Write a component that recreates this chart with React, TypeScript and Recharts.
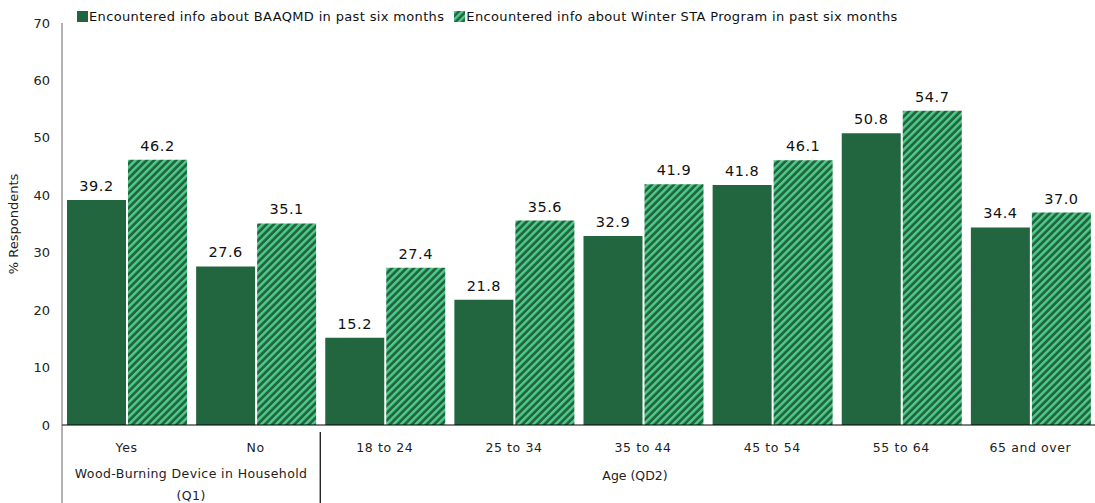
import { BarChart, Bar, XAxis, YAxis, LabelList } from "recharts";

const categories = ["Yes", "No", "18 to 24", "25 to 34", "35 to 44", "45 to 54", "55 to 64", "65 and over"];
const groups = ["Wood-Burning Device in Household (Q1)", "Wood-Burning Device in Household (Q1)", "Age (QD2)", "Age (QD2)", "Age (QD2)", "Age (QD2)", "Age (QD2)", "Age (QD2)"];
const baaqmd = [39.2, 27.6, 15.2, 21.8, 32.9, 41.8, 50.8, 34.4];
const winterSta = [46.2, 35.1, 27.4, 35.6, 41.9, 46.1, 54.7, 37.0];
const yTicks = [0, 10, 20, 30, 40, 50, 60, 70];

const DARK = "#22663f";
const LIGHT = "#4fcb8c";
const W = 1095;
const H = 503;
const LEFT = 62;
const BAND = (W - LEFT) / categories.length;

const data = categories.map((c, i) => ({
  name: c,
  group: groups[i],
  baaqmd: baaqmd[i],
  winter: winterSta[i],
}));

const font = "'DejaVu Sans', Verdana, sans-serif";

function CatTick(props: any) {
  const { x, y, payload, index } = props;
  const first = index === 0 || groups[index] !== groups[index - 1];
  return (
    <g>
      <text x={x} y={y + 19} textAnchor="middle" fontSize={12.5} fill="#222" fontFamily={font} letterSpacing={0.6}>
        {payload.value}
      </text>
      {first && index > 0 && (
        <line x1={x - BAND / 2} x2={x - BAND / 2} y1={y - 1} y2={H} stroke="#000" strokeWidth={1.2} />
      )}
      {index === 0 && (
        <text x={x + BAND / 2} textAnchor="middle" fontSize={12.5} fill="#222" fontFamily={font} letterSpacing={0.4}>
          <tspan x={x + BAND / 2} y={y + 45}>Wood-Burning Device in Household</tspan>
          <tspan x={x + BAND / 2} y={y + 67}>(Q1)</tspan>
        </text>
      )}
      {index === 2 && (
        <text x={635} y={y + 47} textAnchor="middle" fontSize={12.5} fill="#222" fontFamily={font}>
          {groups[index]}
        </text>
      )}
    </g>
  );
}

function Legend() {
  const item = (label: string, fill: string, mr: number) => (
    <div style={{ display: "flex", alignItems: "center", marginRight: mr }}>
      <svg width={11} height={11} style={{ marginRight: 1 }}>
        <rect width={11} height={11} fill={fill} />
      </svg>
      <span style={{ fontSize: 13, fontFamily: font, color: "#111", letterSpacing: 0.35 }}>{label}</span>
    </div>
  );
  return (
    <div style={{ position: "absolute", left: 77, top: 9, display: "flex" }}>
      {item("Encountered info about BAAQMD in past six months", DARK, 10)}
      {item("Encountered info about Winter STA Program in past six months", "url(#legendStripe)", 0)}
    </div>
  );
}

export default function App() {
  return (
    <div style={{ position: "absolute", left: 0, top: 0, width: W, height: H, background: "#fff" }}>
      <svg width={0} height={0} style={{ position: "absolute" }}>
        <defs>
          <pattern id="legendStripe" patternUnits="userSpaceOnUse" width={5} height={5} patternTransform="rotate(45)">
            <rect width={5} height={5} fill={DARK} />
            <rect width={2.4} height={5} fill={LIGHT} />
          </pattern>
        </defs>
      </svg>
      <Legend />
      <BarChart
        width={W}
        height={H}
        data={data}
        margin={{ top: 23, right: 0, bottom: 0, left: 0 }}
        barGap={2}
        barSize={59}
      >
        <defs>
          <pattern id="stripe" patternUnits="userSpaceOnUse" width={5.2} height={5.2} patternTransform="rotate(45)">
            <rect width={5.2} height={5.2} fill={DARK} />
            <rect width={2.4} height={5.2} fill={LIGHT} />
          </pattern>
        </defs>
        <XAxis
          dataKey="name"
          height={78}
          interval={0}
          tickLine={false}
          axisLine={{ stroke: "#000", strokeWidth: 1.2 }}
          tick={<CatTick />}
        />
        <YAxis
          width={62}
          domain={[0, 70]}
          ticks={yTicks}
          interval={0}
          tickLine={false}
          axisLine={{ stroke: "#666" }}
          tick={{ fontSize: 13, fill: "#222", fontFamily: font }}
          tickMargin={6}
          label={{
            value: "% Respondents",
            angle: -90,
            position: "insideLeft",
            dx: 8,
            style: { fontSize: 13, fill: "#222", fontFamily: font, textAnchor: "middle" },
          }}
        />
        <Bar dataKey="baaqmd" fill={DARK} isAnimationActive={false}>
          <LabelList
            dataKey="baaqmd"
            position="top"
            offset={9}
            formatter={(v: any) => Number(v).toFixed(1)}
            style={{ fontSize: 14.5, fill: "#111", fontFamily: font, letterSpacing: 0.5 }}
          />
        </Bar>
        <Bar dataKey="winter" fill="url(#stripe)" isAnimationActive={false}>
          <LabelList
            dataKey="winter"
            position="top"
            offset={9}
            formatter={(v: any) => Number(v).toFixed(1)}
            style={{ fontSize: 14.5, fill: "#111", fontFamily: font, letterSpacing: 0.5 }}
          />
        </Bar>
        <line x1={LEFT} x2={LEFT} y1={425} y2={H} stroke="#666" strokeWidth={1} />
      </BarChart>
    </div>
  );
}
